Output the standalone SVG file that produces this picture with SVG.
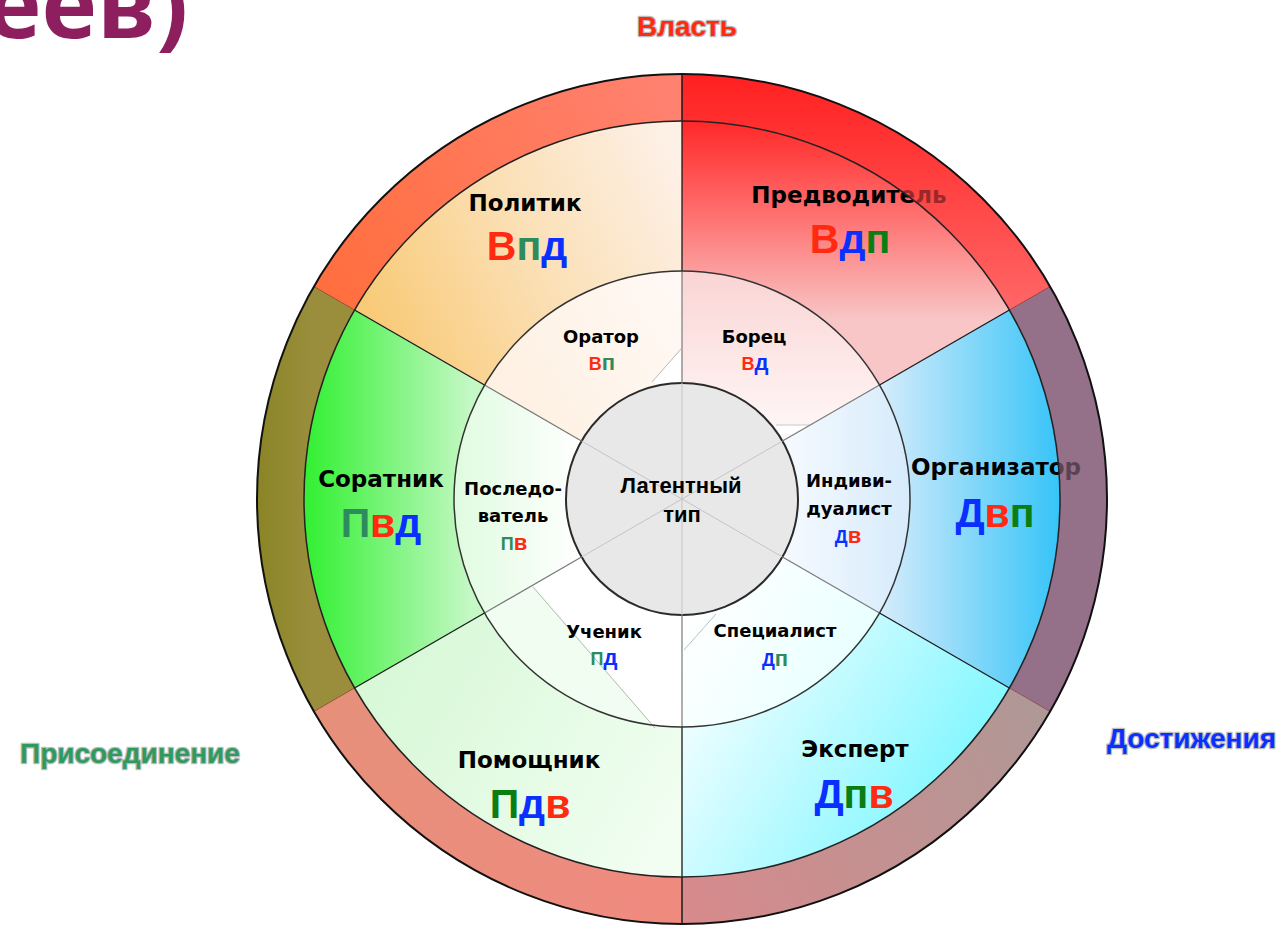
<svg xmlns="http://www.w3.org/2000/svg" width="1286" height="927" viewBox="0 0 1286 927">
<style>
.sec{font-family:"DejaVu Sans",sans-serif;font-weight:bold;font-size:23px;fill:#000;text-anchor:middle}
.inn{font-family:"DejaVu Sans",sans-serif;font-weight:bold;font-size:18px;fill:#000;text-anchor:middle}
.big{font-family:"Liberation Sans",Arial,sans-serif;font-weight:bold;font-size:41px;text-anchor:middle}
.sml{font-family:"Liberation Sans",Arial,sans-serif;font-weight:bold;font-size:18px;text-anchor:middle}
.lo{font-size:22px}
.r{fill:#FF2A10}.b{fill:#0A30FF}.sg{fill:#2E8B5E}.g{fill:#0A7E12}
.axis{font-family:"Liberation Sans",Arial,sans-serif;font-weight:bold;font-size:28px;stroke:#a0a0a0;stroke-width:2.5;stroke-opacity:0.7;paint-order:stroke;stroke-linejoin:round}
.ring{stroke:none}
.ov{opacity:0.6}
.lat{font-family:"Liberation Sans",Arial,sans-serif;font-weight:bold;font-size:22px;text-anchor:middle;fill:#000}
</style>
<defs>
<linearGradient id="gPol" gradientUnits="userSpaceOnUse" x1="340" y1="330" x2="682" y2="170"><stop offset="0" stop-color="#F8C66C"/><stop offset="0.55" stop-color="#FBE0B6"/><stop offset="1" stop-color="#FDF0E6"/></linearGradient>
<linearGradient id="gPre" gradientUnits="userSpaceOnUse" x1="0" y1="121" x2="0" y2="320"><stop offset="0" stop-color="#FF2828"/><stop offset="0.5" stop-color="#FF7474"/><stop offset="1" stop-color="#F8C6C6"/></linearGradient>
<linearGradient id="gOrg" gradientUnits="userSpaceOnUse" x1="880" y1="0" x2="1060" y2="0"><stop offset="0" stop-color="#D6ECFB"/><stop offset="1" stop-color="#36C4F8"/></linearGradient>
<linearGradient id="gExp" gradientUnits="userSpaceOnUse" x1="700" y1="620" x2="980" y2="800"><stop offset="0" stop-color="#FFFFFF"/><stop offset="1" stop-color="#78F6FF"/></linearGradient>
<linearGradient id="gPom" gradientUnits="userSpaceOnUse" x1="370" y1="700" x2="660" y2="870"><stop offset="0" stop-color="#D8F8D8"/><stop offset="1" stop-color="#F2FEF2"/></linearGradient>
<linearGradient id="gSor" gradientUnits="userSpaceOnUse" x1="303" y1="0" x2="470" y2="0"><stop offset="0" stop-color="#30F030"/><stop offset="1" stop-color="#C4F8C4"/></linearGradient>
<linearGradient id="gOra" gradientUnits="userSpaceOnUse" x1="470" y1="400" x2="682" y2="280"><stop offset="0" stop-color="#FEF0E0"/><stop offset="1" stop-color="#FFF8F4"/></linearGradient>
<linearGradient id="gBor" gradientUnits="userSpaceOnUse" x1="0" y1="271" x2="0" y2="420"><stop offset="0" stop-color="#FAD4D4"/><stop offset="1" stop-color="#FFF4F4"/></linearGradient>
<linearGradient id="gInd" gradientUnits="userSpaceOnUse" x1="780" y1="0" x2="910" y2="0"><stop offset="0" stop-color="#F6FAFF"/><stop offset="1" stop-color="#D6EBFB"/></linearGradient>
<linearGradient id="gSpe" gradientUnits="userSpaceOnUse" x1="690" y1="610" x2="880" y2="720"><stop offset="0" stop-color="#FFFFFF"/><stop offset="1" stop-color="#E2FFFF"/></linearGradient>
<linearGradient id="gPos" gradientUnits="userSpaceOnUse" x1="455" y1="0" x2="580" y2="0"><stop offset="0" stop-color="#E0FBE0"/><stop offset="1" stop-color="#FFFFFF"/></linearGradient>
<linearGradient id="rTL" gradientUnits="userSpaceOnUse" x1="320" y1="290" x2="682" y2="80"><stop offset="0" stop-color="#FF6E3E"/><stop offset="1" stop-color="#FF8272"/></linearGradient>
<linearGradient id="rTR" gradientUnits="userSpaceOnUse" x1="0" y1="74" x2="0" y2="300"><stop offset="0" stop-color="#FF2020"/><stop offset="1" stop-color="#FF6464"/></linearGradient>
<linearGradient id="rBL" gradientUnits="userSpaceOnUse" x1="330" y1="720" x2="682" y2="920"><stop offset="0" stop-color="#E6907A"/><stop offset="1" stop-color="#F08A80"/></linearGradient>
<linearGradient id="rBR" gradientUnits="userSpaceOnUse" x1="682" y1="910" x2="1050" y2="712"><stop offset="0" stop-color="#D88A8C"/><stop offset="1" stop-color="#AE9896"/></linearGradient>
<linearGradient id="rL" gradientUnits="userSpaceOnUse" x1="257" y1="0" x2="313" y2="0"><stop offset="0" stop-color="#8A8526"/><stop offset="1" stop-color="#9A8E3C"/></linearGradient>
<path id="pTL" d="M313.9,286.5 A425,425 0 0 1 682,74 L682,121 A378,378 0 0 0 354.6,310 Z"/>
<path id="pTR" d="M682,74 A425,425 0 0 1 1050.1,286.5 L1009.4,310 A378,378 0 0 0 682,121 Z"/>
<path id="pR" d="M1050.1,286.5 A425,425 0 0 1 1050.1,711.5 L1009.4,688 A378,378 0 0 0 1009.4,310 Z"/>
<path id="pBR" d="M1050.1,711.5 A425,425 0 0 1 682,924 L682,877 A378,378 0 0 0 1009.4,688 Z"/>
<path id="pBL" d="M682,924 A425,425 0 0 1 313.9,711.5 L354.6,688 A378,378 0 0 0 682,877 Z"/>
<path id="pL" d="M313.9,711.5 A425,425 0 0 1 313.9,286.5 L354.6,310 A378,378 0 0 0 354.6,688 Z"/>
</defs>

<rect width="1286" height="927" fill="#FFFFFF"/>

<text x="188" y="38" text-anchor="end" font-family="'Open Sans',sans-serif" font-weight="700" font-size="94" fill="#8E1F5E">еев)</text>

<!-- middle ring sectors (full wedges to r=378) -->
<g id="sector-politik"><path d="M682,499 L354.6,310 A378,378 0 0 1 682,121 Z" fill="url(#gPol)"/></g>
<g id="sector-predvoditel"><path d="M682,499 L682,121 A378,378 0 0 1 1009.4,310 Z" fill="url(#gPre)"/></g>
<g id="sector-organizator"><path d="M682,499 L1009.4,310 A378,378 0 0 1 1009.4,688 Z" fill="url(#gOrg)"/></g>
<g id="sector-ekspert"><path d="M682,499 L1009.4,688 A378,378 0 0 1 682,877 Z" fill="url(#gExp)"/></g>
<g id="sector-pomoshchnik"><path d="M682,499 L682,877 A378,378 0 0 1 354.6,688 Z" fill="url(#gPom)"/></g>
<g id="sector-soratnik"><path d="M682,499 L354.6,688 A378,378 0 0 1 354.6,310 Z" fill="url(#gSor)"/></g>

<!-- inner ring sectors (r=228) -->
<g id="inner-orator"><path d="M682,499 L484.5,385 A228,228 0 0 1 682,271 Z" fill="url(#gOra)"/><polygon points="652,382 681,349 681,392" fill="#FFFFFF"/><line x1="652" y1="382" x2="681" y2="349" stroke="#B8B8B8" stroke-width="1"/></g>
<g id="inner-borets"><path d="M682,499 L682,271 A228,228 0 0 1 879.5,385 Z" fill="url(#gBor)"/><polygon points="776,425 812,425 797,434 780,434" fill="#FFFFFF"/><line x1="776" y1="425" x2="812" y2="425" stroke="#C8C8C8" stroke-width="1"/></g>
<g id="inner-individualist"><path d="M682,499 L879.5,385 A228,228 0 0 1 879.5,613 Z" fill="url(#gInd)"/></g>
<g id="inner-spetsialist"><path d="M682,499 L879.5,613 A228,228 0 0 1 682,727 Z" fill="url(#gSpe)"/><line x1="684" y1="650" x2="716" y2="614" stroke="#C0C0C0" stroke-width="1"/></g>
<g id="inner-uchenik"><path d="M682,499 L682,727 A228,228 0 0 1 484.5,613 Z" fill="#F2FDF2"/><polygon points="533,585 655,727 682,727 682,499" fill="#FFFFFF"/><line x1="533" y1="587" x2="655" y2="728" stroke="#B8B8B8" stroke-width="1"/></g>
<g id="inner-posledovatel"><path d="M682,499 L484.5,613 A228,228 0 0 1 484.5,385 Z" fill="url(#gPos)"/></g>

<!-- outer ring base -->
<g id="ring-base" class="ring">
<use href="#pTL" fill="url(#rTL)"/>
<use href="#pTR" fill="url(#rTR)"/>
<use href="#pR" fill="#957089"/>
<use href="#pBR" fill="url(#rBR)"/>
<use href="#pBL" fill="url(#rBL)"/>
<use href="#pL" fill="url(#rL)"/>
</g>

<!-- central circle -->
<g id="latent">
<circle cx="682" cy="499" r="116" fill="#E8E8E8" stroke="#2a2a2a" stroke-width="2"/>
<g stroke="#C4C4C4" stroke-width="1">
<line x1="682" y1="383" x2="682" y2="615"/>
<line x1="581.5" y1="441" x2="782.5" y2="557"/>
<line x1="581.5" y1="557" x2="782.5" y2="441"/>
</g>
<text class="lat" x="681" y="493">Латентный</text>
<text class="lat" x="682" y="522">тип</text>
</g>

<!-- dividers -->
<g id="connectors" fill="none">
<g stroke="#7a7a7a" stroke-width="1.2">
<line x1="581.5" y1="441" x2="484.5" y2="385"/>
<line x1="782.5" y1="441" x2="879.5" y2="385"/>
<line x1="782.5" y1="557" x2="879.5" y2="613"/>
<line x1="581.5" y1="557" x2="484.5" y2="613"/>
<line x1="682" y1="383" x2="682" y2="271"/>
<line x1="682" y1="615" x2="682" y2="727"/>
</g>
<g stroke="#1a1a1a" stroke-width="1.3">
<line x1="484.5" y1="385" x2="354.6" y2="310"/>
<line x1="879.5" y1="385" x2="1009.4" y2="310"/>
<line x1="879.5" y1="613" x2="1009.4" y2="688"/>
<line x1="484.5" y1="613" x2="354.6" y2="688"/>
<line x1="682" y1="271" x2="682" y2="74"/>
<line x1="682" y1="727" x2="682" y2="924"/>
</g>
<g stroke="#7a1a1a" stroke-width="1">
<line x1="354.6" y1="310" x2="313.9" y2="286.5"/>
<line x1="1009.4" y1="310" x2="1050.1" y2="286.5"/>
<line x1="1009.4" y1="688" x2="1050.1" y2="711.5"/>
<line x1="354.6" y1="688" x2="313.9" y2="711.5"/>
</g>
<circle cx="682" cy="499" r="228" stroke="#333" stroke-width="1.5"/>
</g>

<!-- labels -->
<g id="label-politik"><text class="sec" x="525" y="211">Политик</text><text class="big" x="527" y="260"><tspan class="r">В</tspan><tspan class="sg">п</tspan><tspan class="b">д</tspan></text></g>
<g id="label-predvoditel"><text class="sec" x="849" y="203">Предводитель</text><text class="big" x="850" y="253"><tspan class="r">В</tspan><tspan class="b">д</tspan><tspan class="g">п</tspan></text></g>
<g id="label-organizator"><text class="sec" x="996" y="475">Организатор</text><text class="big" x="995" y="527"><tspan class="b">Д</tspan><tspan class="r">в</tspan><tspan class="g">п</tspan></text></g>
<g id="label-ekspert"><text class="sec" x="855" y="757">Эксперт</text><text class="big" x="854" y="808"><tspan class="b">Д</tspan><tspan class="g">п</tspan><tspan class="r">в</tspan></text></g>
<g id="label-pomoshchnik"><text class="sec" x="529" y="768">Помощник</text><text class="big" x="530" y="818"><tspan class="g">П</tspan><tspan class="b">д</tspan><tspan class="r">в</tspan></text></g>
<g id="label-soratnik"><text class="sec" x="381" y="487">Соратник</text><text class="big" x="381" y="537"><tspan class="sg">П</tspan><tspan class="r">в</tspan><tspan class="b">д</tspan></text></g>

<g id="label-orator"><text class="inn" x="601" y="343">Оратор</text><text class="sml" x="602" y="370"><tspan class="r">В</tspan><tspan class="sg lo">п</tspan></text></g>
<g id="label-borets"><text class="inn" x="754" y="343">Борец</text><text class="sml" x="755" y="370"><tspan class="r">В</tspan><tspan class="b lo">д</tspan></text></g>
<g id="label-individualist"><text class="inn" x="849" y="487">Индиви-</text><text class="inn" x="849" y="515">дуалист</text><text class="sml" x="848" y="543"><tspan class="b">Д</tspan><tspan class="r lo">в</tspan></text></g>
<g id="label-spetsialist"><text class="inn" x="775" y="637">Специалист</text><text class="sml" x="775" y="666"><tspan class="b">Д</tspan><tspan class="sg lo">п</tspan></text></g>
<g id="label-uchenik"><text class="inn" x="604" y="638">Ученик</text><text class="sml" x="604" y="665"><tspan class="sg">П</tspan><tspan class="b lo">д</tspan></text></g>
<g id="label-posledovatel"><text class="inn" x="513" y="495">Последо-</text><text class="inn" x="513" y="522">ватель</text><text class="sml" x="514" y="550"><tspan class="sg">П</tspan><tspan class="r lo">в</tspan></text></g>

<!-- outer ring overlay (semi-transparent, tints overlapping text) -->
<g id="ring-overlay" class="ov ring">
<use href="#pTL" fill="url(#rTL)"/>
<use href="#pTR" fill="url(#rTR)"/>
<use href="#pR" fill="#957089"/>
<use href="#pBR" fill="url(#rBR)"/>
<use href="#pBL" fill="url(#rBL)"/>
<use href="#pL" fill="url(#rL)"/>
</g>
<g id="ring-lines" fill="none">
<line x1="682" y1="74" x2="682" y2="121" stroke="#1a1a1a" stroke-width="1.3"/>
<line x1="682" y1="877" x2="682" y2="924" stroke="#1a1a1a" stroke-width="1.3"/>
<circle cx="682" cy="499" r="378" stroke="#222" stroke-width="1.5"/>
<circle cx="682" cy="499" r="425" stroke="#111" stroke-width="2"/>
</g>

<g id="axis-vlast"><text class="axis" x="687" y="36" text-anchor="middle" fill="#FF2A10">Власть</text></g>
<g id="axis-prisoedinenie"><text class="axis" x="20" y="763" fill="#2E9A5E">Присоединение</text></g>
<g id="axis-dostizheniya"><text class="axis" x="1107" y="748" fill="#0A30FF">Достижения</text></g>
</svg>
